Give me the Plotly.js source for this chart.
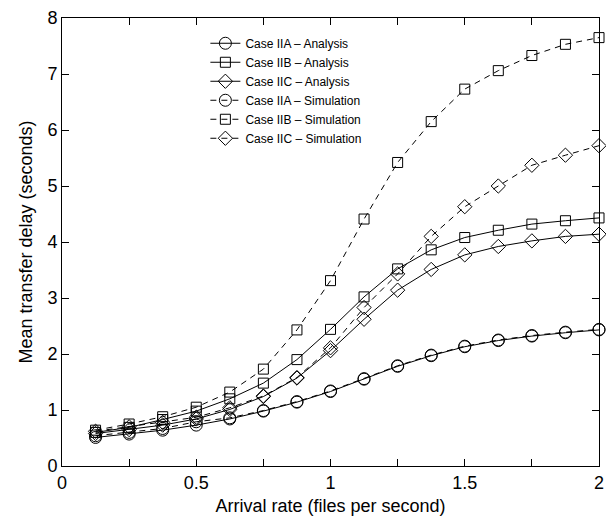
<!DOCTYPE html>
<html>
<head>
<meta charset="utf-8">
<script src="https://cdn.plot.ly/plotly-3.0.1.min.js"></script>
<style>html,body{margin:0;padding:0;background:#fff;}#chart{width:606px;height:516px;}</style>
</head>
<body>
<div id="chart"></div>
<script>
const arrivalRate = [0.125,0.25,0.375,0.5,0.625,0.75,0.875,1.0,1.125,1.25,1.375,1.5,1.625,1.75,1.875,2.0];

const iiaAnalysis = [0.51,0.57,0.64,0.73,0.84,0.98,1.14,1.33,1.55,1.78,1.97,2.13,2.24,2.32,2.38,2.43];
const iibAnalysis = [0.60,0.69,0.83,0.98,1.20,1.48,1.90,2.44,3.02,3.52,3.86,4.08,4.21,4.32,4.38,4.43];
const iicAnalysis = [0.58,0.65,0.73,0.84,1.01,1.24,1.57,2.06,2.62,3.14,3.51,3.77,3.92,4.02,4.10,4.14];
const iiaSimulation = [0.54,0.60,0.67,0.79,0.86,0.99,1.15,1.34,1.56,1.79,1.98,2.14,2.25,2.33,2.39,2.44];
const iibSimulation = [0.64,0.75,0.88,1.05,1.32,1.73,2.43,3.31,4.41,5.42,6.15,6.73,7.06,7.33,7.53,7.65];
const iicSimulation = [0.62,0.70,0.78,0.87,1.04,1.25,1.58,2.11,2.83,3.43,4.10,4.63,5.00,5.37,5.55,5.72];

const seriesNames = ["Case IIA \u2013 Analysis","Case IIB \u2013 Analysis","Case IIC \u2013 Analysis",
                     "Case IIA \u2013 Simulation","Case IIB \u2013 Simulation","Case IIC \u2013 Simulation"];

const xTickVals = [0,0.25,0.5,0.75,1,1.25,1.5,1.75,2];
const xTickText = ["0","","0.5","","1","","1.5","","2"];
const yTickVals = [0,1,2,3,4,5,6,7,8];

function mk(y, name, sym, size, dash){
  return {x: arrivalRate, y: y, name: name, type: 'scatter', mode: 'lines+markers',
    line: {color: '#000', width: 1, dash: dash},
    marker: {symbol: sym, size: size, color: '#000', line: {color: '#000', width: 1}},
    cliponaxis: false};
}

const data = [
  mk(iiaAnalysis, seriesNames[0], 'circle-open', 12, 'solid'),
  mk(iibAnalysis, seriesNames[1], 'square-open', 10, 'solid'),
  mk(iicAnalysis, seriesNames[2], 'diamond-open', 11, 'solid'),
  mk(iiaSimulation, seriesNames[3], 'circle-open', 12, '6px,5px'),
  mk(iibSimulation, seriesNames[4], 'square-open', 10, '6px,5px'),
  mk(iicSimulation, seriesNames[5], 'diamond-open', 11, '6px,5px')
];

const layout = {
  width: 606, height: 516,
  margin: {l: 62, r: 7, t: 18, b: 50},
  paper_bgcolor: '#fff', plot_bgcolor: '#fff',
  font: {family: 'Liberation Sans, Arial, sans-serif', color: '#000', size: 18},
  showlegend: true,
  legend: {x: 0.267, y: 0.976, xanchor: 'left', yanchor: 'top', bgcolor: 'rgba(0,0,0,0)',
    font: {size: 12, family: 'Liberation Sans, Arial, sans-serif'}, tracegroupgap: 0, itemwidth: 30},
  xaxis: {range: [0,2], tickvals: xTickVals, ticktext: xTickText, ticks: 'inside', ticklen: 7,
    tickcolor: '#000', showline: true, linecolor: '#000', linewidth: 1, mirror: 'ticks',
    showgrid: false, zeroline: false, tickfont: {size: 18},
    title: {text: 'Arrival rate (files per second)', font: {size: 18}, standoff: 8}},
  yaxis: {range: [0,8], tickvals: yTickVals, ticks: 'inside', ticklen: 7,
    tickcolor: '#000', showline: true, linecolor: '#000', linewidth: 1, mirror: 'ticks',
    showgrid: false, zeroline: false, tickfont: {size: 18},
    title: {text: 'Mean transfer delay (seconds)', font: {size: 18}, standoff: 10}}
};

Plotly.newPlot('chart', data, layout, {displayModeBar: false, staticPlot: true});
</script>
</body>
</html>
